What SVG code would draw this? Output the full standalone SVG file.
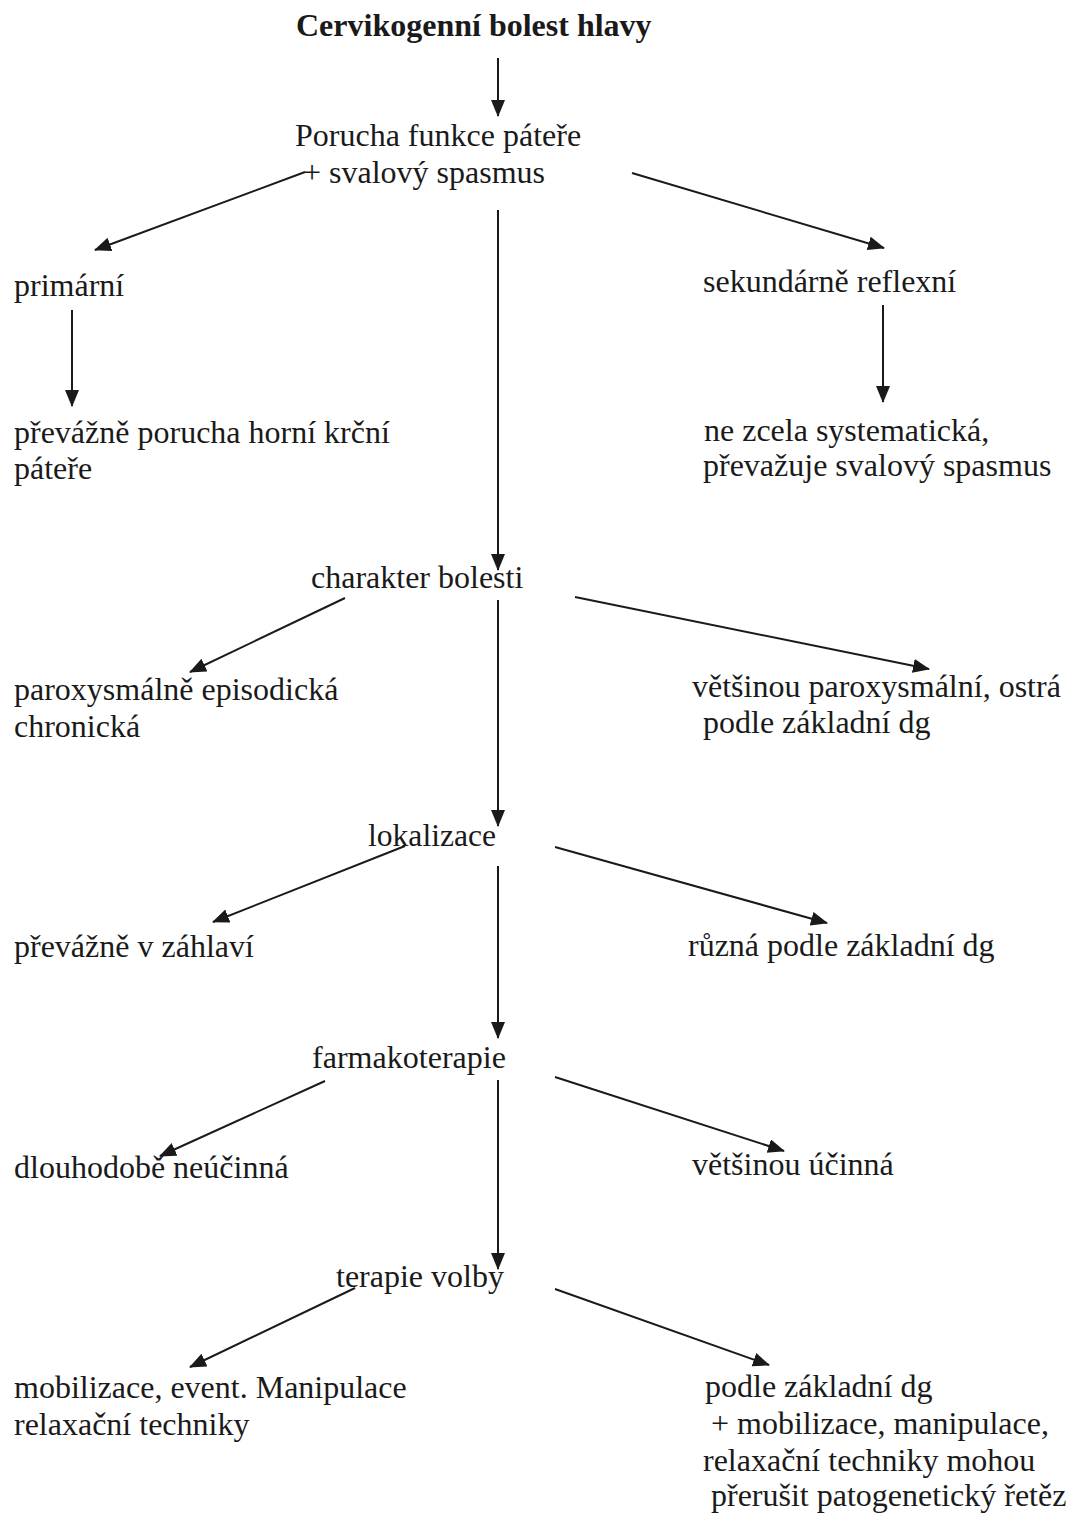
<svg xmlns="http://www.w3.org/2000/svg" width="1072" height="1514" viewBox="0 0 1072 1514">
<defs>
<marker id="ah" markerWidth="18" markerHeight="15" refX="16" refY="7" orient="auto" markerUnits="userSpaceOnUse">
<path d="M0,0 L17,7 L0,14 z" fill="#1a1a1a"/>
</marker>
<style>
text{font-family:"Liberation Serif","Times New Roman",serif;font-size:32px;fill:#1a1a1a}
.b{font-weight:bold}
.c line{stroke:#1a1a1a;stroke-width:2;marker-end:url(#ah)}
</style>
</defs>
<rect width="1072" height="1514" fill="#fff"/>
<g id="n-title"><text class="b" x="296" y="36">Cervikogenní bolest hlavy</text></g>
<g id="n-porucha"><text x="295" y="146">Porucha funkce páteře</text><text x="303" y="183">+ svalový spasmus</text></g>
<g id="n-primarni"><text x="14" y="296">primární</text></g>
<g id="n-sekundarne"><text x="703" y="292">sekundárně reflexní</text></g>
<g id="n-prevazne"><text x="14" y="443">převážně porucha horní krční</text><text x="14" y="479">páteře</text></g>
<g id="n-nezcela"><text x="704" y="441">ne zcela systematická,</text><text x="703" y="476">převažuje svalový spasmus</text></g>
<g id="n-charakter"><text x="311" y="588">charakter bolesti</text></g>
<g id="n-paroxysmalne"><text x="14" y="700">paroxysmálně episodická</text><text x="14" y="737">chronická</text></g>
<g id="n-vetsinou-parox"><text x="692" y="697">většinou paroxysmální, ostrá</text><text x="703" y="733">podle základní dg</text></g>
<g id="n-lokalizace"><text x="368" y="846" textLength="128" lengthAdjust="spacingAndGlyphs">lokalizace</text></g>
<g id="n-zahlavi"><text x="14" y="957">převážně v záhlaví</text></g>
<g id="n-ruzna"><text x="688" y="956">různá podle základní dg</text></g>
<g id="n-farmako"><text x="312" y="1068" textLength="194" lengthAdjust="spacingAndGlyphs">farmakoterapie</text></g>
<g id="n-neucinna"><text x="14" y="1178">dlouhodobě neúčinná</text></g>
<g id="n-ucinna"><text x="692" y="1175">většinou účinná</text></g>
<g id="n-terapie"><text x="336" y="1287">terapie volby</text></g>
<g id="n-mobilizace"><text x="14" y="1398">mobilizace, event. Manipulace</text><text x="14" y="1435">relaxační techniky</text></g>
<g id="n-podle"><text x="705" y="1397">podle základní dg</text><text x="711" y="1434">+ mobilizace, manipulace,</text><text x="703" y="1471">relaxační techniky mohou</text><text x="711" y="1506">přerušit patogenetický řetěz</text></g>
<g id="connectors" class="c">
<line x1="498" y1="58" x2="498" y2="116"/>
<line x1="305" y1="172" x2="95" y2="250"/>
<line x1="632" y1="173" x2="884" y2="248"/>
<line x1="498" y1="210" x2="498" y2="570"/>
<line x1="72" y1="310" x2="72" y2="406"/>
<line x1="883" y1="305" x2="883" y2="402"/>
<line x1="345" y1="598" x2="190" y2="672"/>
<line x1="575" y1="597" x2="929" y2="669"/>
<line x1="498" y1="600" x2="498" y2="826"/>
<line x1="405" y1="846" x2="213" y2="922"/>
<line x1="555" y1="847" x2="827" y2="923"/>
<line x1="498" y1="866" x2="498" y2="1038"/>
<line x1="325" y1="1081" x2="160" y2="1156"/>
<line x1="555" y1="1077" x2="784" y2="1151"/>
<line x1="498" y1="1080" x2="498" y2="1269"/>
<line x1="355" y1="1288" x2="190" y2="1367"/>
<line x1="555" y1="1289" x2="769" y2="1365"/>
</g>
</svg>
